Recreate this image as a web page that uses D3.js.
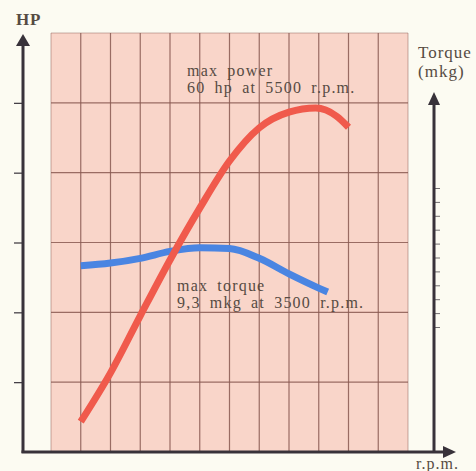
<!DOCTYPE html>
<html>
<head>
<meta charset="utf-8">
<script src="https://cdn.jsdelivr.net/npm/d3@7"></script>
<style>
  html, body { margin: 0; padding: 0; background: #fcfbf2; }
  svg { display: block; }
  text { font-family: "Liberation Serif", "DejaVu Serif", serif; fill: #564b43; }
</style>
</head>
<body>
<div class="vis"></div>
<script>
// engine speed (r.p.m.) for each curve point
var powerRpm = [500, 1000, 1500, 2000, 2500, 3000, 3500, 4000, 4450, 4800, 5000];
var powerHp = [5.2, 13.6, 23.4, 33.0, 41.9, 50.0, 55.7, 58.4, 59.1, 57.7, 55.8];

var torqueRpm = [500, 1000, 1500, 2000, 2500, 3000, 3500, 4000, 4500, 4650];
var torqueMkg = [8.7, 8.8, 8.97, 9.22, 9.35, 9.32, 8.97, 8.41, 7.9, 7.76];

var rpmGrid = d3.range(0, 6001, 500);
var hpGrid = d3.range(0, 73, 12);
var hpTicks = [12, 24, 36, 48, 60];
var torqueTicks = d3.range(6.5, 11.51, 0.5);

var powerNote = ["max power", "60 hp at 5500 r.p.m."];
var torqueNote = ["max torque", "9,3 mkg at 3500 r.p.m."];

var width = 476, height = 471;

var svg = d3.select(".vis")
    .append("svg")
    .attr("width", width)
    .attr("height", height);

var x = d3.scaleLinear().domain([0, 6000]).range([51, 408]);
var yHp = d3.scaleLinear().domain([0, 72]).range([452, 33]);
var yTq = d3.scaleLinear().domain([6.5, 11.5]).range([327, 188]);

// pink grid paper
svg.append("rect")
    .attr("x", x(0))
    .attr("y", yHp(72))
    .attr("width", x(6000) - x(0))
    .attr("height", yHp(0) - yHp(72))
    .style("fill", "#f9d5c9");

svg.append("g")
    .selectAll("line")
    .data(rpmGrid)
    .enter()
    .append("line")
    .attr("x1", d => x(d))
    .attr("x2", d => x(d))
    .attr("y1", yHp(0))
    .attr("y2", yHp(72))
    .style("stroke", "#8a5a52")
    .style("stroke-width", 1.2)
    .style("opacity", (d, i) => (i == 0 || i == rpmGrid.length - 1) ? 0.4 : 0.85);

svg.append("g")
    .selectAll("line")
    .data(hpGrid)
    .enter()
    .append("line")
    .attr("x1", x(0))
    .attr("x2", x(6000))
    .attr("y1", d => yHp(d))
    .attr("y2", d => yHp(d))
    .style("stroke", "#8a5a52")
    .style("stroke-width", 1.2)
    .style("opacity", d => d == 72 ? 0.45 : 0.85);

// curves
var powerLine = d3.line()
    .x((d, i) => x(powerRpm[i]))
    .y(d => yHp(d))
    .curve(d3.curveMonotoneX);

var torqueLine = d3.line()
    .x((d, i) => x(torqueRpm[i]))
    .y(d => yTq(d))
    .curve(d3.curveMonotoneX);

svg.append("path")
    .datum(torqueMkg)
    .attr("d", torqueLine)
    .style("fill", "none")
    .style("stroke", "#4a85e2")
    .style("stroke-width", 7);

svg.append("path")
    .datum(powerHp)
    .attr("d", powerLine)
    .style("fill", "none")
    .style("stroke", "#f05a4c")
    .style("stroke-width", 7);

// axes
var axisColor = "#38323a";

svg.append("g")
    .attr("transform", "translate(23,0)")
    .call(d3.axisLeft(yHp).tickValues(hpTicks).tickSize(9).tickFormat(""))
    .call(g => g.select(".domain").remove())
    .selectAll("line").style("stroke", axisColor).style("stroke-width", 1.2);

svg.append("g")
    .attr("transform", "translate(434,0)")
    .call(d3.axisRight(yTq).tickValues(torqueTicks).tickSize(6).tickFormat(""))
    .call(g => g.select(".domain").remove())
    .selectAll("line").style("stroke", axisColor).style("stroke-width", 1).style("opacity", 0.7);

function arrowLine(x1, y1, x2, y2) {
    svg.append("line")
        .attr("x1", x1).attr("y1", y1)
        .attr("x2", x2).attr("y2", y2)
        .style("stroke", axisColor)
        .style("stroke-width", 3);
}
arrowLine(23, 453, 23, 42);
arrowLine(434, 453, 434, 100);
arrowLine(21.5, 452, 448, 452);

var heads = [
    [[23, 34], [16, 46], [30, 46]],
    [[434, 92], [428, 105], [440, 105]],
    [[456, 452], [443, 446], [443, 458]]
];
svg.append("g")
    .selectAll("path")
    .data(heads)
    .enter()
    .append("path")
    .attr("d", d => "M" + d.join("L") + "Z")
    .style("fill", axisColor);

// labels
svg.append("text")
    .attr("x", 16).attr("y", 25)
    .style("font-size", "17px")
    .style("font-weight", "bold")
    .style("letter-spacing", "0.8px")
    .text("HP");

svg.append("text")
    .attr("x", 418).attr("y", 58)
    .style("font-size", "17px")
    .style("letter-spacing", "1px")
    .text("Torque");

svg.append("text")
    .attr("x", 418).attr("y", 77)
    .style("font-size", "17px")
    .style("letter-spacing", "1px")
    .text("(mkg)");

svg.append("text")
    .attr("x", 416).attr("y", 469)
    .style("font-size", "16px")
    .style("letter-spacing", "1px")
    .text("r.p.m.");

function note(lines, x0, y0) {
    svg.append("g")
        .selectAll("text")
        .data(lines)
        .enter()
        .append("text")
        .attr("x", x0)
        .attr("y", (d, i) => y0 + i * 16.5)
        .style("font-size", "16px")
        .style("letter-spacing", "1.2px")
        .style("word-spacing", "4px")
        .text(d => d);
}
note(powerNote, 187, 76);
note(torqueNote, 177, 291);
</script>
</body>
</html>
